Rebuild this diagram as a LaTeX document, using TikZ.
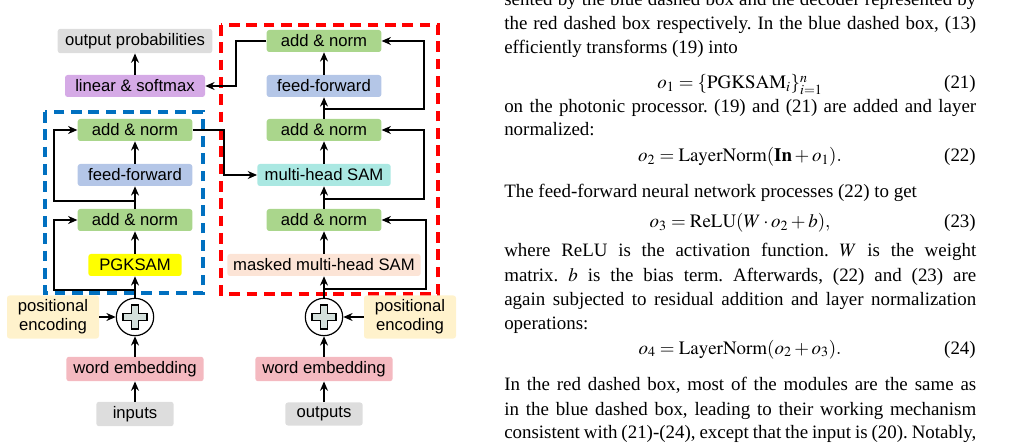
\documentclass[tikz,border=0pt]{standalone}
\usepackage{mathptmx}
\usepackage{fontspec}
\setmainfont{Liberation Serif}
\setsansfont{Liberation Sans}
\usetikzlibrary{arrows.meta}

\definecolor{cgray}{RGB}{221,221,221}
\definecolor{cpurple}{RGB}{213,170,230}
\definecolor{cgreen}{RGB}{170,214,140}
\definecolor{cblue}{RGB}{180,198,231}
\definecolor{cyellow}{RGB}{255,255,0}
\definecolor{ccyan}{RGB}{170,232,226}
\definecolor{cpeach}{RGB}{252,228,214}
\definecolor{cpos}{RGB}{255,242,204}
\definecolor{cpink}{RGB}{244,185,192}
\definecolor{cplus}{RGB}{212,224,220}
\definecolor{dblue}{RGB}{0,112,192}

\newcommand{\jline}[1]{\hbox to 354pt{\frenchspacing #1}}
\newcommand{\lline}[1]{\hbox to 354pt{\frenchspacing #1\hfil}}

\tikzset{
  blk/.style={rounded corners=2pt, draw=none, minimum height=16.5pt, inner xsep=3pt,
    font=\sffamily\fontsize{12.5}{14}\selectfont},
  arr/.style={-{Stealth[length=7pt,width=6pt]}, line width=0.9pt},
  dash box/.style={line width=2.4pt, dash pattern=on 8pt off 5pt},
  txt/.style={anchor=base west, inner sep=0pt, font=\fontsize{14.2}{18}\selectfont},
  eqn/.style={anchor=base, inner sep=0pt, font=\fontsize{14.2}{18}\selectfont},
  eqno/.style={anchor=base east, inner sep=0pt, font=\fontsize{14.2}{18}\selectfont}
}

\begin{document}
\begin{tikzpicture}[x=0.75pt,y=0.75pt,yscale=-1,xscale=1]
\useasboundingbox (0,0) rectangle (1016,448);

% dashed boxes
\draw [dash box, dblue] (45,112) rectangle (203,293);
\draw [dash box, red] (221,25) rectangle (438,294);

% left column
\node [blk, fill=cgray, minimum width=116pt] (outp) at (135,41) {output probabilities};
\node [blk, fill=cpurple, minimum width=105pt] (lin) at (135,86) {linear \& softmax};
\node [blk, fill=cgreen, minimum width=86pt] (lan2) at (135,130) {add \& norm};
\node [blk, fill=cblue, minimum width=86pt] (lff) at (135,175) {feed-forward};
\node [blk, fill=cgreen, minimum width=86pt] (lan1) at (135,220) {add \& norm};
\node [blk, fill=cyellow, minimum width=70pt] (pgk) at (135,265) {PGKSAM};
\node [circle, draw, line width=0.9pt, minimum size=28pt, inner sep=0pt] (lplus) at (135,317) {};
\node [blk, fill=cpos, minimum width=69pt, minimum height=31pt, align=center,
  font=\sffamily\fontsize{12.5}{14}\selectfont] (lpos) at (53,317) {positional\\encoding};
\node [blk, fill=cpink, minimum width=103pt] (lwe) at (135,369) {word embedding};
\node [blk, fill=cgray, minimum width=58pt] (inp) at (135,414) {inputs};

% right column
\node [blk, fill=cgreen, minimum width=86pt] (ran3) at (324,41) {add \& norm};
\node [blk, fill=cblue, minimum width=86pt] (rff) at (324,86) {feed-forward};
\node [blk, fill=cgreen, minimum width=86pt] (ran2) at (324,130) {add \& norm};
\node [blk, fill=ccyan, minimum width=100pt] (mha) at (324,175) {multi-head SAM};
\node [blk, fill=cgreen, minimum width=86pt] (ran1) at (324,220) {add \& norm};
\node [blk, fill=cpeach, minimum width=145pt] (mmha) at (324,265) {masked multi-head SAM};
\node [circle, draw, line width=0.9pt, minimum size=28pt, inner sep=0pt] (rplus) at (324,317) {};
\node [blk, fill=cpos, minimum width=69pt, minimum height=31pt, align=center,
  font=\sffamily\fontsize{12.5}{14}\selectfont] (rpos) at (410,317) {positional\\encoding};
\node [blk, fill=cpink, minimum width=103pt] (rwe) at (324,369) {word embedding};
\node [blk, fill=cgray, minimum width=58pt] (outs) at (324,414) {outputs};

% plus signs
\foreach \c in {lplus, rplus}
  \draw [fill=cplus, line width=0.9pt, shift={(\c.center)}]
    (-3.5,-12) -- (3.5,-12) -- (3.5,-3.5) -- (12,-3.5) -- (12,3.5) -- (3.5,3.5) -- (3.5,12)
    -- (-3.5,12) -- (-3.5,3.5) -- (-12,3.5) -- (-12,-3.5) -- (-3.5,-3.5) -- cycle;

% vertical flow
\draw [arr] (inp) -- (lwe);
\draw [arr] (lwe) -- (lplus);
\draw [arr] (lpos) -- (lplus);
\draw [arr] (lplus) -- (pgk);
\draw [arr] (pgk) -- (lan1);
\draw [arr] (lan1) -- (lff);
\draw [arr] (lff) -- (lan2);
\draw [arr] (lin) -- (outp);
\draw [arr] (outs) -- (rwe);
\draw [arr] (rwe) -- (rplus);
\draw [arr] (rpos) -- (rplus);
\draw [arr] (rplus) -- (mmha);
\draw [arr] (mmha) -- (ran1);
\draw [arr] (ran1) -- (mha);
\draw [arr] (mha) -- (ran2);
\draw [arr] (ran2) -- (rff);
\draw [arr] (rff) -- (ran3);

% residual connections
\draw [arr] (135,290) -- (54,290) |- (lan1.west);
\draw [arr] (135,201) -- (54,201) |- (lan2.west);
\draw [arr] (lan2.east) -- (224,130) |- (mha.west);
\draw [arr] (324,289) -- (426,289) |- (ran1.east);
\draw [arr] (324,199) -- (424,199) |- (ran2.east);
\draw [arr] (324,109) -- (424,109) |- (ran3.east);
\draw [arr] (ran3.west) -- (236,41) |- (lin.east);

% text column
\node [txt] (t0) at (504,6) {\jline{sented by the blue dashed box and the decoder represented by}};
\node [txt] (t1) at (504,30) {\jline{the red dashed box respectively. In the blue dashed box, (13)}};
\node [txt] (t2) at (504,54) {\lline{efficiently transforms (19) into}};
\node [eqn] (e21) at (740,89) {$o_1=\{\mathrm{PGKSAM}_i\}_{i=1}^{n}$};
\node [eqno] (n21) at (976,89) {(21)};
\node [txt] (t3) at (504,113) {\jline{on the photonic processor. (19) and (21) are added and layer}};
\node [txt] (t4) at (504,136) {\lline{normalized:}};
\node [eqn] (e22) at (740,162) {$o_2=\mathrm{LayerNorm}(\mathbf{In}+o_1).$};
\node [eqno] (n22) at (976,162) {(22)};
\node [txt] (t5) at (504,198) {\lline{The feed-forward neural network processes (22) to get}};
\node [eqn] (e23) at (740,228) {$o_3=\mathrm{ReLU}(W\cdot o_2+b),$};
\node [eqno] (n23) at (976,228) {(23)};
\node [txt] (t6) at (504,257) {\jline{where ReLU is the activation function. $W$ is the weight}};
\node [txt] (t7) at (504,282) {\jline{matrix. $b$ is the bias term. Afterwards, (22) and (23) are}};
\node [txt] (t8) at (504,306) {\jline{again subjected to residual addition and layer normalization}};
\node [txt] (t9) at (504,330) {\lline{operations:}};
\node [eqn] (e24) at (740,354) {$o_4=\mathrm{LayerNorm}(o_2+o_3).$};
\node [eqno] (n24) at (976,354) {(24)};
\node [txt] (t10) at (504,391) {\jline{In the red dashed box, most of the modules are the same as}};
\node [txt] (t11) at (504,415) {\jline{in the blue dashed box, leading to their working mechanism}};
\node [txt] (t12) at (504,438) {\jline{consistent with (21)-(24), except that the input is (20). Notably,}};

\end{tikzpicture}
\end{document}
